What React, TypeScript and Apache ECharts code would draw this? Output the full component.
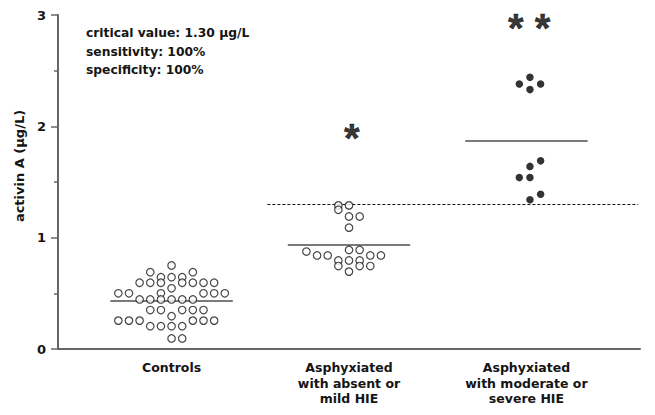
import React, { useEffect, useRef } from 'react';
import * as echarts from 'echarts';

// ---- data ----
const categories = [
  'Controls',
  'Asphyxiated\nwith absent or\nmild HIE',
  'Asphyxiated\nwith moderate or\nsevere HIE',
];
const yTickValues = [0, 1, 2, 3];

// Controls: activin A values and their column slot in the dot swarm
const controlsValues = [
  0.75,
  0.69, 0.69,
  0.645, 0.645, 0.645,
  0.595, 0.595, 0.595, 0.595, 0.595, 0.595, 0.595,
  0.545,
  0.5, 0.5, 0.5, 0.5, 0.5, 0.5,
  0.445, 0.445, 0.445, 0.445, 0.445, 0.445,
  0.35, 0.35, 0.35, 0.35, 0.35,
  0.295,
  0.255, 0.255, 0.255, 0.255, 0.255, 0.255,
  0.205, 0.205, 0.205, 0.205,
  0.095, 0.095,
];
const controlsSlots = [
  0,
  -2, 2,
  -1, 0, 1,
  -3, -2, -1, 1, 2, 3, 4,
  0,
  -5, -4, -1, 3, 4, 5,
  -3, -2, -1, 0, 1, 2,
  -2, -1, 1, 2, 3,
  0,
  -5, -4, -3, 2, 3, 4,
  -2, -1, 0, 1,
  0, 1,
];

// Asphyxiated with absent or mild HIE
const mildValues = [
  1.29, 1.29, 1.25, 1.19, 1.19, 1.09,
  0.89, 0.89, 0.875,
  0.84, 0.84, 0.84, 0.84,
  0.795, 0.795, 0.795,
  0.745, 0.745, 0.745,
  0.695,
];
const mildSlots = [
  -1, 0, -1, 0, 1, 0,
  0, 1, -4,
  -3, -2, 2, 3,
  -1, 0, 1,
  -1, 1, 2,
  0,
];

// Asphyxiated with moderate or severe HIE
const severeValues = [2.44, 2.38, 2.38, 2.33, 1.69, 1.64, 1.54, 1.54, 1.39, 1.34];
const severeSlots = [0.33, -0.67, 1.33, 0.33, 1.33, 0.33, -0.67, 0.33, 1.33, 0.33];

const groupMeans = [0.43, 0.94, 1.87];
const criticalValue = 1.3;
const significance = ['', '*', '* *'];
const significanceY = [0, 1.895, 2.885];
const annotationLines = [
  'critical value: 1.30 \u00b5g/L',
  'sensitivity: 100%',
  'specificity: 100%',
];
const yAxisTitle = 'activin A (\u00b5g/L)';

// ---- layout ----
const SLOT = 0.06;
const MEAN_HALF = 0.345;
const CRIT_START = 0.54;
const CRIT_END = 2.63;
const TEXT_COLOR = '#151515';
const AXIS_COLOR = '#666666';
const LABEL_FONT = 'DejaVu Sans';

export default function App() {
  const ref = useRef<HTMLDivElement>(null);

  useEffect(() => {
    if (!ref.current) return;
    const chart = echarts.init(ref.current, undefined, { renderer: 'svg' });

    const toPoints = (center: number, vals: number[], slots: number[]) =>
      vals.map((v, i) => [center + slots[i] * SLOT, v]);

    const meanLines = groupMeans.map((m, i) => [
      { coord: [i - MEAN_HALF, m], lineStyle: { color: '#7a7a7a', width: 2, type: 'solid' } },
      { coord: [i + MEAN_HALF, m] },
    ]);
    const critLine = [
      { coord: [CRIT_START, criticalValue], lineStyle: { color: '#111', width: 1, type: [3, 2] } },
      { coord: [CRIT_END, criticalValue] },
    ];

    const openCircle = {
      symbol: 'circle',
      symbolSize: 7.5,
      itemStyle: { color: '#ffffff', borderColor: '#1a1a1a', borderWidth: 1.2 },
    };

    chart.setOption({
      animation: false,
      backgroundColor: '#ffffff',
      grid: { left: 58, right: 15, top: 15, bottom: 66, containLabel: false },
      xAxis: {
        type: 'value',
        min: -0.64,
        max: 2.64,
        axisLine: { show: true, onZero: false, lineStyle: { color: AXIS_COLOR, width: 2 } },
        axisTick: { show: false },
        splitLine: { show: false },
        axisLabel: {
          customValues: [0, 1, 2],
          formatter: (v: number) => categories[Math.round(v)] ?? '',
          color: TEXT_COLOR,
          fontFamily: LABEL_FONT,
          fontWeight: 'bold',
          fontSize: 12.5,
          lineHeight: 15.5,
          margin: 11,
        },
      },
      yAxis: {
        type: 'value',
        min: 0,
        max: 3,
        interval: 1,
        axisLine: { show: true, onZero: false, lineStyle: { color: AXIS_COLOR, width: 2 } },
        axisTick: { show: true, length: 7, lineStyle: { color: AXIS_COLOR, width: 1.5 } },
        minorTick: { show: true, splitNumber: 2, length: 4, lineStyle: { color: AXIS_COLOR, width: 1.5 } },
        splitLine: { show: false },
        axisLabel: {
          formatter: (v: number) => (yTickValues.includes(v) ? String(v) : ''),
          color: TEXT_COLOR,
          fontFamily: LABEL_FONT,
          fontWeight: 'bold',
          fontSize: 13,
          margin: 12,
        },
      },
      graphic: [
        {
          type: 'text',
          x: 19,
          y: 166,
          rotation: Math.PI / 2,
          style: {
            text: yAxisTitle,
            font: `bold 13px "${LABEL_FONT}"`,
            fill: TEXT_COLOR,
            textAlign: 'center',
            textVerticalAlign: 'middle',
          },
        },
        {
          type: 'text',
          left: 86,
          top: 24,
          style: {
            text: annotationLines.join('\n'),
            font: `bold 12.3px "${LABEL_FONT}"`,
            fill: TEXT_COLOR,
            lineHeight: 18.5,
          },
        },
      ],
      series: [
        {
          type: 'scatter',
          name: 'Controls',
          ...openCircle,
          data: toPoints(0, controlsValues, controlsSlots),
          z: 3,
          markLine: {
            silent: true,
            symbol: 'none',
            label: { show: false },
            data: [...meanLines, critLine],
            z: 2,
          },
        },
        {
          type: 'scatter',
          name: 'Mild',
          ...openCircle,
          data: toPoints(1, mildValues, mildSlots),
          z: 3,
        },
        {
          type: 'scatter',
          name: 'Severe',
          symbol: 'circle',
          symbolSize: 7.5,
          itemStyle: { color: '#000000' },
          data: toPoints(2, severeValues, severeSlots),
          z: 3,
        },
        {
          type: 'scatter',
          name: 'Significance',
          symbolSize: 0,
          silent: true,
          data: [1, 2].map((i) => [i + 0.015, significanceY[i]]),
          label: {
            show: true,
            position: 'inside',
            formatter: (p: any) => significance[Math.round(p.value[0])],
            fontFamily: 'Liberation Sans',
            fontWeight: 'bold',
            fontSize: 40,
            color: '#000',
            textBorderColor: '#000',
            textBorderWidth: 0.5,
          },
        },
      ],
    });

    return () => chart.dispose();
  }, []);

  return <div ref={ref} style={{ width: 655, height: 415, position: 'absolute', left: 0, top: 0 }} />;
}
